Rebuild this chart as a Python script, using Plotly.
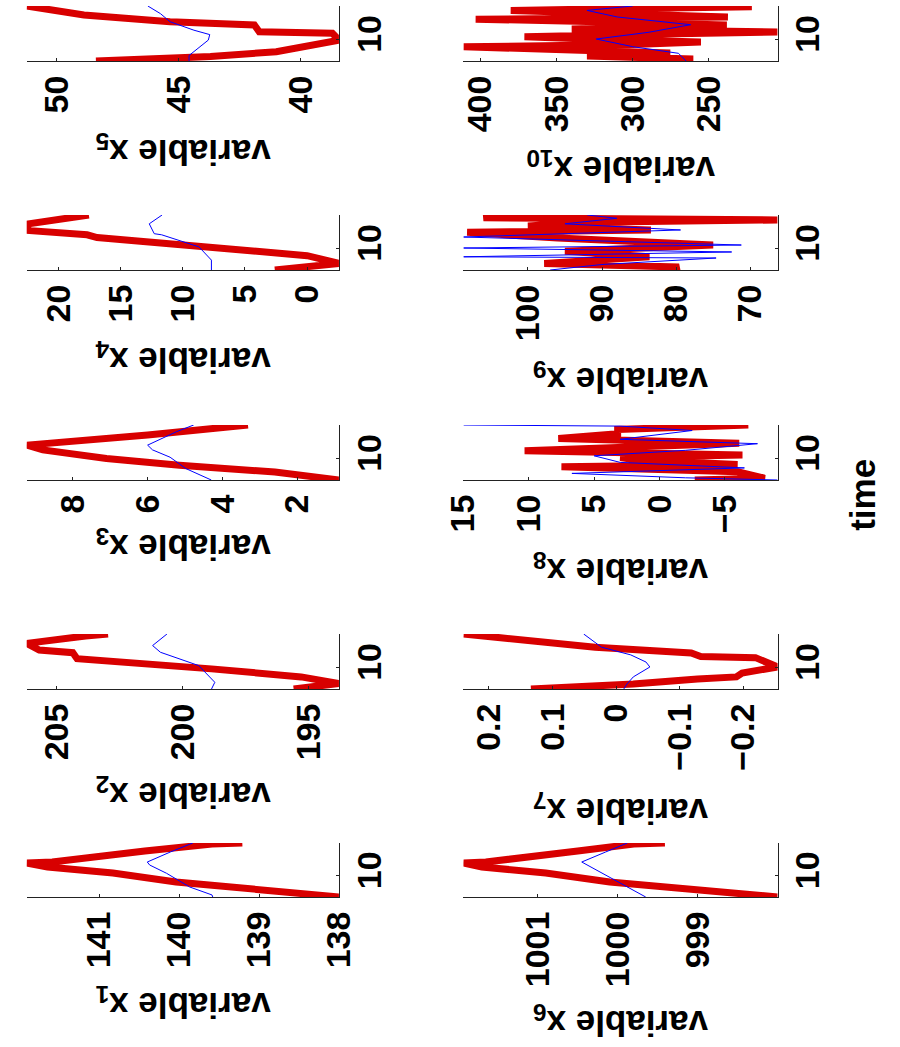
import plotly.graph_objects as go

W, H = 900, 1047
T_MIN, T_MAX = 8.0, 13.0
TIME_TICKS = [10]

# ---- data: (time, value) for the measured (red) and simulated (blue) traces ----
x1_red_t = [8.0, 8.74, 9.39, 10.22, 10.78, 11.15, 11.24, 12.26, 12.9, 13.0]
x1_red_v = [138.0, 139.11, 140.04, 140.83, 141.65, 141.91, 141.59, 140.43, 139.59, 139.21]
x1_blue_t = [8.0, 8.19, 8.93, 10.2, 10.96, 11.24, 12.17, 13.0]
x1_blue_v = [139.58, 139.59, 139.87, 140.16, 140.37, 140.4, 140.11, 139.83]

x2_red_t = [8.0, 8.5, 9.1, 9.83, 10.75, 11.3, 11.54, 12.15, 12.82, 13.0]
x2_red_v = [195.6, 193.8, 195.3, 198.86, 204.2, 204.37, 205.7, 206.2, 203.86, 202.97]
x2_blue_t = [8.0, 8.61, 10.13, 11.23, 11.34, 11.95, 13.0]
x2_blue_v = [198.86, 198.73, 199.37, 200.82, 200.89, 201.2, 200.63]

x3_red_t = [8.0, 8.73, 9.34, 9.95, 10.74, 11.17, 12.09, 12.82, 13.0]
x3_red_v = [0.89, 2.6, 5.15, 7.1, 8.8, 9.23, 6.0, 4.04, 3.32]
x3_blue_t = [8.0, 9.04, 10.07, 10.74, 11.17, 12.39, 13.0]
x3_blue_v = [4.3, 4.98, 5.4, 5.87, 6.0, 5.23, 4.77]

x4_red_t = [8.0, 8.6, 9.3, 10.1, 10.95, 11.2, 11.6, 12.2, 12.8, 13.0]
x4_red_v = [2.6, -2.56, 0.0, 7.7, 16.9, 17.7, 22.56, 22.4, 19.2, 17.56]
x4_blue_t = [8.0, 8.9, 10.1, 11.2, 11.3, 12.2, 13.0]
x4_blue_v = [7.7, 7.7, 8.7, 11.7, 12.3, 12.7, 11.67]

x5_red_t = [8.0, 8.4, 8.85, 9.3, 9.9, 10.52, 10.66, 11.27, 11.57, 12.18, 13.0]
x5_red_v = [48.4, 43.7, 41.0, 39.7, 38.43, 38.7, 41.7, 41.9, 45.36, 48.89, 51.24]
x5_blue_t = [8.0, 8.5, 9.9, 10.4, 10.8, 11.57, 12.3, 13.0]
x5_blue_v = [44.58, 44.58, 43.79, 43.73, 44.38, 45.36, 45.75, 46.27]

x6_red_t = [8.0, 8.74, 9.39, 10.22, 10.78, 11.15, 11.24, 12.26, 12.9, 13.0]
x6_red_v = [998.0, 999.1, 1000.1, 1000.9, 1001.7, 1001.93, 1001.65, 1000.5, 999.8, 999.41]
x6_blue_t = [8.0, 9.0, 10.2, 11.0, 11.24, 12.17, 13.0]
x6_blue_v = [999.65, 999.9, 1000.2, 1000.4, 1000.45, 1000.15, 999.88]

x7_red_t = [8.0, 8.45, 8.9, 9.1, 9.45, 10.0, 10.85, 10.95, 11.27, 11.8, 13.0]
x7_red_v = [0.134, -0.027, -0.128, -0.189, -0.198, -0.2538, -0.219, -0.133, -0.118, 0.033, 0.24]
x7_blue_t = [8.0, 8.45, 9.1, 10.0, 10.45, 11.1, 11.8, 13.0]
x7_blue_v = [-0.012, -0.017, -0.027, -0.053, -0.047, -0.023, 0.023, 0.051]

x8_red_t = [8.0, 8.15, 8.75, 9.0, 9.21, 9.42, 9.82, 10.05, 10.27, 10.66, 11.0, 11.33, 11.78, 12.2, 12.6, 12.85, 13.0]
x8_red_v = [-2.7, -8.06, -5.98, 2.0, 7.5, -5.98, 1.74, 3.0, -6.35, 10.32, 0.0, -6.1, 7.74, 3.2, 3.2, -6.8, -6.8]
x8_blue_t = [8.0, 8.2, 8.6, 9.1, 9.6, 10.2, 10.7, 11.3, 11.7, 12.5, 12.9, 13.0]
x8_blue_v = [-9.04, -2.0, 6.7, -6.5, 3.0, 5.0, -2.0, -7.5, 3.0, -2.5, 3.0, 15.0]

x9_red_t = [8.0, 8.27, 8.6, 9.09, 9.2, 9.7, 10.27, 10.9, 11.43, 11.64, 12.0, 12.35, 12.55, 12.75, 13.0]
x9_red_v = [80.5, 79.6, 97.8, 87.0, 83.6, 95.0, 75.0, 96.0, 108.2, 83.4, 100.0, 92.0, 66.3, 106.0, 104.0]
x9_blue_t = [8.0, 8.5, 9.09, 9.2, 9.64, 10.0, 10.27, 11.0, 11.64, 12.2, 12.7, 13.0]
x9_blue_v = [97.0, 90.0, 74.6, 108.7, 72.5, 108.7, 71.2, 108.7, 79.4, 95.0, 88.0, 92.0]

x10_red_t = [8.0, 8.18, 8.45, 8.73, 9.0, 9.29, 9.5, 9.73, 10.0, 10.2, 10.4, 10.64,
             10.9, 11.27, 11.6, 11.8, 12.0, 12.3, 12.6, 12.94, 13.0]
x10_red_v = [300.0, 260.3, 330.0, 275.4, 340.0, 411.0, 300.0, 255.3, 330.0, 371.0, 300.0, 205.0,
             340.0, 238.3, 330.0, 403.0, 237.6, 320.0, 380.0, 221.9, 278.0]
x10_blue_t = [8.0, 8.7, 9.3, 10.0, 10.6, 11.3, 12.0, 12.6, 13.0]
x10_blue_v = [265.0, 270.0, 300.0, 324.0, 290.0, 262.0, 310.0, 330.0, 300.0]

# value-axis tick marks per variable
x1_ticks = [138, 139, 140, 141]
x2_ticks = [195, 200, 205]
x3_ticks = [2, 4, 6, 8]
x4_ticks = [0, 5, 10, 15, 20]
x5_ticks = [40, 45, 50]
x6_ticks = [999, 1000, 1001]
x7_ticks = [-0.2, -0.1, 0, 0.1, 0.2]
x8_ticks = [-5, 0, 5, 10, 15]
x9_ticks = [70, 80, 90, 100]
x10_ticks = [250, 300, 350, 400]

# ---- layout (pixel boxes of each panel) ----
COL_X = [(7, 333), (463, 791)]
ROW_Y = {1: (843, 897), 2: (634, 689), 3: (425, 480), 4: (215, 270), 5: (6, 61)}
LABEL_Y = {1: 1003, 2: 793, 3: 545, 4: 358, 5: 150,
           6: 1021, 7: 809, 8: 569, 9: 378, 10: 167}

panels = [
    (1, x1_red_t, x1_red_v, x1_blue_t, x1_blue_v, x1_ticks),
    (2, x2_red_t, x2_red_v, x2_blue_t, x2_blue_v, x2_ticks),
    (3, x3_red_t, x3_red_v, x3_blue_t, x3_blue_v, x3_ticks),
    (4, x4_red_t, x4_red_v, x4_blue_t, x4_blue_v, x4_ticks),
    (5, x5_red_t, x5_red_v, x5_blue_t, x5_blue_v, x5_ticks),
    (6, x6_red_t, x6_red_v, x6_blue_t, x6_blue_v, x6_ticks),
    (7, x7_red_t, x7_red_v, x7_blue_t, x7_blue_v, x7_ticks),
    (8, x8_red_t, x8_red_v, x8_blue_t, x8_blue_v, x8_ticks),
    (9, x9_red_t, x9_red_v, x9_blue_t, x9_blue_v, x9_ticks),
    (10, x10_red_t, x10_red_v, x10_blue_t, x10_blue_v, x10_ticks),
]

FONT = "Liberation Sans, Arial, Helvetica, sans-serif"
AX_COLOR = "#222222"
RED = "#d80000"
BLUE = "#0000ff"


def px(x):
    return x / W


def py(y):
    return 1 - y / H


fig = go.Figure()
annotations = []

for k, (idx, rt, rv, bt, bv, ticks) in enumerate(panels):
    col = 0 if idx <= 5 else 1
    row = idx if idx <= 5 else idx - 5
    x0, x1 = COL_X[col]
    y0, y1 = ROW_Y[row]
    n = k + 1
    xa = "x" if n == 1 else f"x{n}"
    ya = "y" if n == 1 else f"y{n}"

    fig.add_trace(go.Scatter(x=rv, y=rt, mode="lines", xaxis=xa, yaxis=ya,
                             line=dict(color=RED, width=7), showlegend=False,
                             hoverinfo="skip"))
    fig.add_trace(go.Scatter(x=bv, y=bt, mode="lines", xaxis=xa, yaxis=ya,
                             line=dict(color=BLUE, width=1), showlegend=False,
                             hoverinfo="skip"))

    vmin = min(min(rv), min(bv))
    vmax = max(max(rv), max(bv))
    tick_text = [("\u2212" + f"{abs(t):g}") if t < 0 else f"{t:g}" for t in ticks]

    axis_common = dict(showgrid=False, zeroline=False, showline=True,
                       linecolor=AX_COLOR, linewidth=1, ticks="inside",
                       ticklen=3, tickcolor=AX_COLOR, tickwidth=1,
                       tickfont=dict(family=FONT, size=34, color="black", weight="bold"))

    fig.layout[xa.replace("x", "xaxis")] = dict(
        domain=[px(x0), px(x1)], anchor=ya, range=[vmax, vmin],
        tickmode="array", tickvals=ticks, ticktext=tick_text,
        tickangle=-90, side="bottom", **axis_common)
    fig.layout[ya.replace("y", "yaxis")] = dict(
        domain=[py(y1), py(y0)], anchor=xa, range=[T_MIN, T_MAX],
        tickmode="array", tickvals=TIME_TICKS, ticktext=[str(t) for t in TIME_TICKS],
        tickangle=-90, side="right", **axis_common)

    annotations.append(dict(
        text=f"variable x<sub>{idx}</sub>", xref="paper", yref="paper",
        x=px((x0 + x1) / 2), y=py(LABEL_Y[idx]), xanchor="center", yanchor="middle",
        textangle=180, showarrow=False,
        font=dict(family=FONT, size=35, color="black", weight="bold")))

annotations.append(dict(
    text="time", xref="paper", yref="paper", x=px(880), y=py(495),
    xanchor="center", yanchor="middle", textangle=-90, showarrow=False,
    font=dict(family=FONT, size=35, color="black", weight="bold")))

fig.update_layout(width=W, height=H, margin=dict(l=0, r=0, t=0, b=0),
                  paper_bgcolor="white", plot_bgcolor="white",
                  annotations=annotations)

fig.write_html("out.html")
